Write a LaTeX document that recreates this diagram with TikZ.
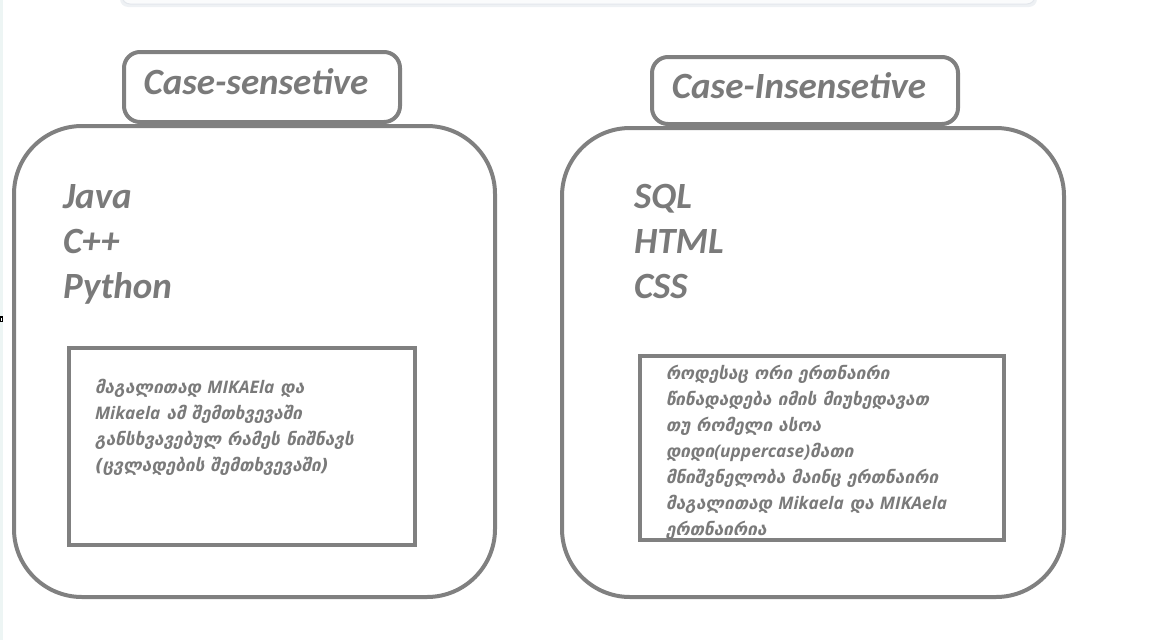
\documentclass[tikz,border=0pt]{standalone}
\usepackage{fontspec}
\setmainfont{Carlito}
\newfontfamily\kafont{DejaVu Sans}[BoldFont={DejaVu Sans Bold},
  ItalicFont={DejaVu Sans Oblique}, BoldItalicFont={DejaVu Sans Bold Oblique}]
\newfontfamily\latfont{Open Sans}
\usetikzlibrary{positioning}
\definecolor{linegray}{HTML}{808080}
\definecolor{textgray}{HTML}{7A7A7A}
\definecolor{cardedge}{HTML}{E3E7EC}
\definecolor{cardfill}{HTML}{FAFBFC}
\definecolor{sidestrip}{HTML}{EDF5F4}
\newcommand\latw[1]{{\latfont #1}}

\begin{document}
\begin{tikzpicture}[x=1pt, y=-1pt, line width=4pt, color=linegray, text=textgray,
    bigbox/.style={draw, rounded corners=68pt, inner sep=0pt},
    titlebox/.style={draw, fill=white, rounded corners=16pt, inner sep=0pt},
    titletext/.style={inner sep=0pt, font=\fontsize{37}{40}\selectfont\bfseries\itshape},
    notebox/.style={draw, inner sep=0pt},
    lang/.style={anchor=base west, inner sep=0pt,
      font=\fontsize{37}{40}\selectfont\bfseries\itshape},
    note/.style={anchor=north west, align=left, inner sep=0pt,
      font=\fontsize{17.3}{26}\selectfont\kafont\bfseries\itshape}]
\useasboundingbox (0,0) rectangle (1155,640);

% screen left over round the picture
\fill[sidestrip] (0,0) rectangle (3,640);
\fill[black] (0,316) rectangle (3,322);
\fill[white] (1,317.5) rectangle (2,320.5);
\fill[cardedge!60, rounded corners=8pt] (120,-20) rectangle (1037,7);
\filldraw[fill=cardfill, draw=cardedge, line width=1pt, rounded corners=8pt]
  (122,-20) rectangle (1035,4);

% case-sensitive side
\node[bigbox, minimum width=481pt, minimum height=471pt] (sensbox) at (254.5,361.5) {};
\node[titlebox, minimum width=276pt, minimum height=70pt] (senstitle) at (262,87) {};
\node[titletext] (senslabel) at (256,82) {Case-sensetive};
\node[lang] (java) at (61,208) {Java};
\node[lang] (cpp) at (61,253) {C++};
\node[lang] (python) at (61,298) {Python};
\node[notebox, minimum width=346pt, minimum height=197pt] (sensframe) at (242,446.5) {};
\node[note] (sensnote) at (93,377) {მაგალითად \latw{MIKAEla} და\\
  \latw{Mikaela} ამ შემთხვევაში\\
  განსხვავებულ რამეს ნიშნავს\\
  (ცვლადების შემთხვევაში)};

% case-insensitive side
\node[bigbox, minimum width=502pt, minimum height=469pt] (insbox) at (813,362.5) {};
\node[titlebox, minimum width=306pt, minimum height=67pt] (institle) at (805,90.5) {};
\node[titletext] (inslabel) at (799,86) {Case-Insensetive};
\node[lang] (sql) at (632,208) {SQL};
\node[lang] (html) at (632,253) {HTML};
\node[lang] (css) at (632,298) {CSS};
\node[notebox, minimum width=364pt, minimum height=184pt] (insframe) at (822,448) {};
\node[note] (insnote) at (664,363) {როდესაც ორი ერთნაირი\\
  წინადადება იმის მიუხედავათ\\
  თუ რომელი ასოა\\
  დიდი\latw{(uppercase)}მათი\\
  მნიშვნელობა მაინც ერთნაირი\\
  მაგალითად \latw{Mikaela} და \latw{MIKAela}\\
  ერთნაირია};
\end{tikzpicture}
\end{document}
